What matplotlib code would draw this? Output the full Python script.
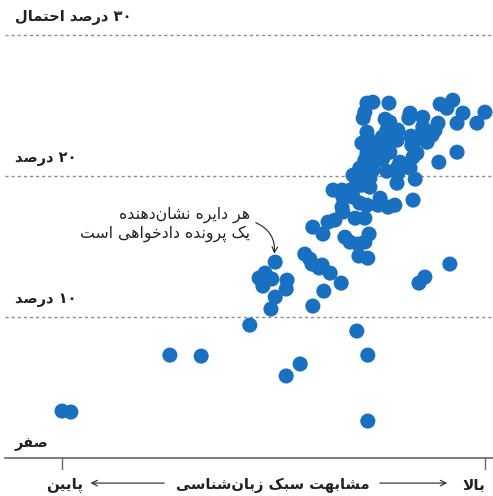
import re
import matplotlib
matplotlib.use('Agg')
import matplotlib.pyplot as plt

# similarity (0 = low, 100 = high) and probability (%) for each case
similarity = [0.0, 2.1, 72.3, 25.5, 32.9, 44.4, 53.0, 56.3, 69.7, 72.3,
              50.4, 48.0, 46.6, 49.6, 47.5, 53.2, 53.0, 50.4, 49.4,
              57.4, 58.6, 59.1, 61.5, 60.8, 63.4, 66.0, 61.9, 59.3, 70.2, 72.3,
              91.7, 85.8, 84.4,
              72.1, 73.5, 77.3, 71.6, 71.2, 76.4, 77.5, 82.3, 82.0, 85.3,
              89.4, 91.0, 92.4, 94.8, 93.4, 98.1, 100.0, 79.4, 85.3, 85.1,
              88.9, 88.2, 87.5, 86.3, 82.5, 83.0, 78.3, 79.2, 75.7, 76.8,
              72.1, 72.3, 70.9, 73.3, 74.7, 76.4, 77.5, 75.2, 73.5, 72.1,
              71.6, 72.8, 74.5, 75.9, 79.9, 83.9, 82.7, 83.0, 81.6, 82.3,
              79.4, 93.4, 89.1, 76.8, 73.5, 72.1, 70.4, 68.8, 70.9, 72.8,
              79.4, 79.2, 83.5, 72.8, 70.9, 69.3, 68.1, 66.2, 64.1, 66.4,
              68.8, 70.4, 72.1, 75.2, 74.7, 77.1, 78.7, 83.0, 66.2, 66.4,
              69.3, 71.6, 62.9, 64.5, 59.3, 61.7, 66.9, 68.1, 70.0, 72.6, 71.6]
probability = [3.33, 3.26, 2.62, 7.30, 7.23, 9.43, 5.82, 6.67, 9.01, 7.30,
               13.90, 13.12, 12.77, 12.70, 12.20, 12.62, 11.99, 11.42, 10.57,
               14.47, 14.11, 13.76, 13.69, 13.48, 13.12, 12.41, 11.84, 10.78, 14.33, 14.18,
               13.76, 12.84, 12.41,
               25.18, 25.25, 25.18, 24.54, 24.11, 24.04, 23.83, 24.47, 24.11, 24.18,
               25.11, 24.82, 25.39, 24.47, 23.76, 23.76, 24.54, 23.26, 23.48, 23.05,
               23.76, 23.26, 22.91, 22.41, 22.84, 22.34, 22.55, 22.55, 22.77, 23.26,
               23.12, 22.70, 22.34, 22.06, 22.34, 21.84, 21.70, 21.35, 21.49, 21.63,
               21.13, 20.92, 21.13, 21.28, 20.99, 21.63, 22.20, 21.35, 20.78, 20.57,
               20.64, 21.70, 20.99, 20.35, 20.43, 20.28, 20.57, 20.07, 19.93, 19.86,
               20.21, 19.50, 19.79, 19.22, 19.36, 19.22, 19.01, 19.01, 19.01, 18.51,
               18.51, 18.09, 17.94, 18.44, 17.94, 17.80, 17.94, 18.30, 17.80, 17.45,
               17.02, 17.02, 16.74, 16.88, 16.38, 15.89, 15.67, 15.32, 15.18, 15.89, 15.32]

grid_levels = [10, 20, 30]
grid_labels = ['۱۰ درصد', '۲۰ درصد', '۳۰ درصد احتمال']
zero_label = 'صفر'
x_title = 'مشابهت سبک زبان‌شناسی'
x_low = 'پایین'
x_high = 'بالا'
note = ['هر دایره نشان‌دهنده', 'یک پرونده دادخواهی است']

# --- minimal Persian shaping (matplotlib has no text shaping) ---
DUAL = {'ب': (0xFE8F, 0xFE90, 0xFE91, 0xFE92), 'پ': (0xFB56, 0xFB57, 0xFB58, 0xFB59),
        'ت': (0xFE95, 0xFE96, 0xFE97, 0xFE98), 'ح': (0xFEA1, 0xFEA2, 0xFEA3, 0xFEA4),
        'خ': (0xFEA5, 0xFEA6, 0xFEA7, 0xFEA8), 'س': (0xFEB1, 0xFEB2, 0xFEB3, 0xFEB4),
        'ش': (0xFEB5, 0xFEB6, 0xFEB7, 0xFEB8), 'ص': (0xFEB9, 0xFEBA, 0xFEBB, 0xFEBC),
        'ف': (0xFED1, 0xFED2, 0xFED3, 0xFED4), 'ک': (0xFB8E, 0xFB8F, 0xFB90, 0xFB91),
        'ل': (0xFEDD, 0xFEDE, 0xFEDF, 0xFEE0), 'م': (0xFEE1, 0xFEE2, 0xFEE3, 0xFEE4),
        'ن': (0xFEE5, 0xFEE6, 0xFEE7, 0xFEE8), 'ه': (0xFEE9, 0xFEEA, 0xFEEB, 0xFEEC),
        'ی': (0xFBFC, 0xFBFD, 0xFBFE, 0xFBFF)}
RIGHT = {'ا': (0xFE8D, 0xFE8E), 'د': (0xFEA9, 0xFEAA), 'ر': (0xFEAD, 0xFEAE),
         'ز': (0xFEAF, 0xFEB0), 'و': (0xFEED, 0xFEEE), 'لا': (0xFEFB, 0xFEFC)}


def fa(text):
    letters = []
    i = 0
    while i < len(text):
        if text[i] == 'ل' and text[i + 1:i + 2] == 'ا':
            letters.append('لا')
            i += 2
        else:
            letters.append(text[i])
            i += 1
    out = []
    for k, c in enumerate(letters):
        prev = letters[k - 1] if k > 0 else None
        nxt = letters[k + 1] if k + 1 < len(letters) else None
        jp = prev in DUAL
        if c in DUAL:
            jn = nxt in DUAL or nxt in RIGHT
            idx = 3 if (jp and jn) else 1 if jp else 2 if jn else 0
            out.append(chr(DUAL[c][idx]))
        elif c in RIGHT:
            out.append(chr(RIGHT[c][1] if jp else RIGHT[c][0]))
        elif c != '\u200c':
            out.append(c)
    s = ''.join(out)[::-1]
    return re.sub(r'[۰-۹0-9]+', lambda m: m.group(0)[::-1], s)


blue = '#1a70c0'
ink = '#222222'
fam = ['DejaVu Sans']

fig = plt.figure(figsize=(4.93, 4.96), dpi=100)
ax = fig.add_axes([0.01, 38 / 496, 0.99, 458 / 496])
ax.set_xlim(-13.5, 101.9)
ax.set_ylim(0, 32.5)
ax.axis('off')

for lv in grid_levels:
    ax.axhline(lv, color='#8a8a8a', lw=1, ls=(0, (2.2, 2.2)), zorder=1)
ax.axhline(0, color='#666666', lw=1.2, zorder=1, clip_on=False)

for lv, lab in zip(grid_levels, grid_labels):
    ax.text(-11.1, lv + 1.25, fa(lab), ha='left', va='center', fontsize=10.5,
            fontweight='bold', color=ink, family=fam)
ax.text(-11.1, 1.0, fa(zero_label), ha='left', va='center', fontsize=10.5,
        fontweight='bold', color=ink, family=fam)

ax.scatter(similarity, probability, s=118, color=blue, edgecolors='none', zorder=3)

# x axis ticks and labels
for xv in [0, 100]:
    ax.plot([xv, xv], [0, -0.78], color='#666666', lw=1, clip_on=False)
ax.text(0.7, -1.95, fa(x_low), ha='center', va='center', fontsize=11,
        fontweight='bold', color=ink, family=fam)
ax.text(100, -1.95, fa(x_high), ha='right', va='center', fontsize=11,
        fontweight='bold', color=ink, family=fam)
ax.text(49.9, -1.95, fa(x_title), ha='center', va='center', fontsize=10.6,
        fontweight='bold', color=ink, family=fam)
ax.annotate('', xy=(6.1, -1.78), xytext=(24.8, -1.78),
            arrowprops=dict(arrowstyle='->', color=ink, lw=0.8), annotation_clip=False)
ax.annotate('', xy=(91.7, -1.78), xytext=(74.5, -1.78),
            arrowprops=dict(arrowstyle='->', color=ink, lw=0.8), annotation_clip=False)

# annotation
ax.text(44.4, 16.6, fa(note[0]) + '\n' + fa(note[1]), ha='right', va='center',
        fontsize=11.3, color=ink, family=fam, linespacing=1.2)
ax.annotate('', xy=(50.2, 13.9 + 0.6), xytext=(45.8, 16.7),
            arrowprops=dict(arrowstyle='->', color=ink, lw=0.8,
                            connectionstyle='arc3,rad=-0.35', shrinkA=0, shrinkB=0))

fig.savefig('out.png', dpi=100)
